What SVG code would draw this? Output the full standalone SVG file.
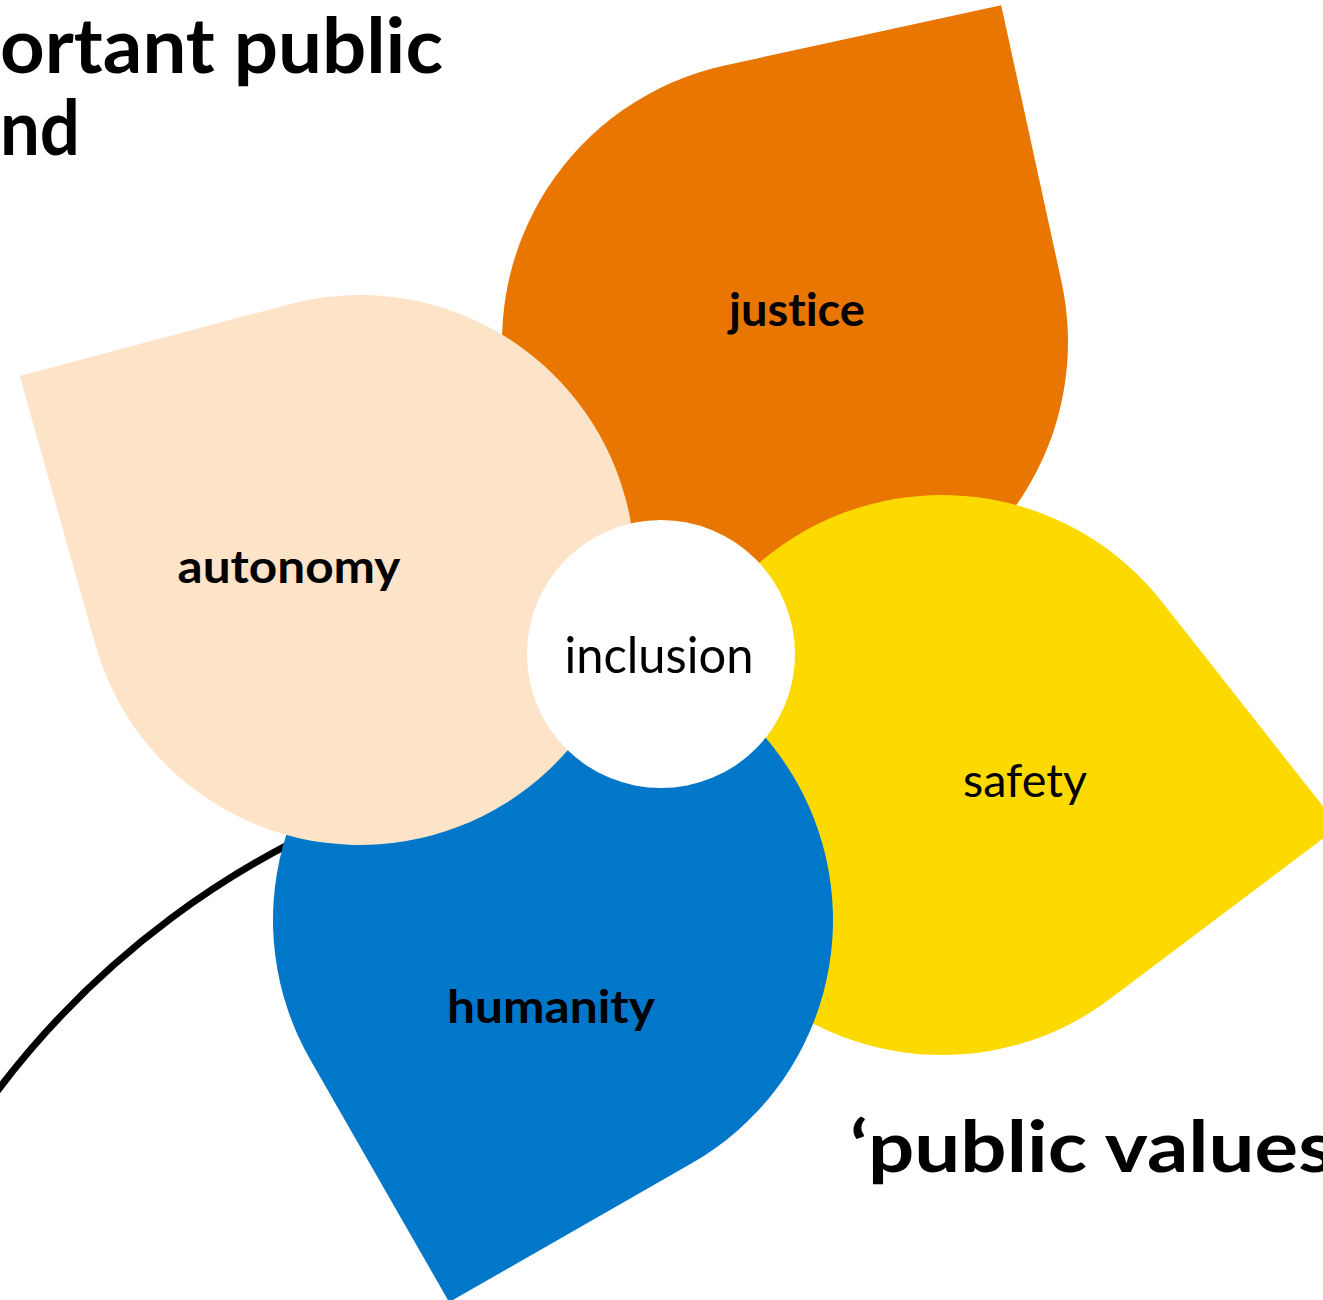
<svg xmlns="http://www.w3.org/2000/svg" width="1323" height="1300" viewBox="0 0 1323 1300">
  <style>
    text { font-variant-ligatures: none; font-feature-settings: "liga" 0, "clig" 0; }
    .lbl { font-family: Lato, "Open Sans", "Liberation Sans", sans-serif; fill: #000; text-anchor: middle; }
    .b { font-weight: bold; }
    .title { font-family: Lato, "Open Sans", "Liberation Sans", sans-serif; font-weight: bold; fill: #000; }
  </style>
  <rect width="1323" height="1300" fill="#fff"/>
  <g id="title">
    <text class="title" x="0" y="73" font-size="76" textLength="443" lengthAdjust="spacingAndGlyphs">ortant public</text>
    <text class="title" x="0" y="155" font-size="76" textLength="80" lengthAdjust="spacingAndGlyphs">nd</text>
  </g>
  <g id="connectors">
    <path d="M -10,1100.7 A 868 868 0 0 1 400,796" fill="none" stroke="#000" stroke-width="7"/>
  </g>
  <g id="justice">
    <path transform="translate(785,342) rotate(-12.3)" d="M -283,0 A 283 283 0 0 1 0,-283 L 283,-283 L 283,0 A 283 283 0 1 1 -283,0 Z" fill="#E97600"/>
    <text class="lbl b" x="797" y="326" font-size="46" textLength="136" lengthAdjust="spacingAndGlyphs">justice</text>
  </g>
  <g id="safety">
    <path transform="translate(942,775) rotate(52.4)" d="M -280,0 A 280 280 0 0 1 0,-280 L 283,-283 L 280,0 A 280 280 0 1 1 -280,0 Z" fill="#FCDA00"/>
    <text class="lbl" x="1025" y="797" font-size="46" textLength="124" lengthAdjust="spacingAndGlyphs">safety</text>
  </g>
  <g id="humanity">
    <path transform="translate(553,920) rotate(150.2)" d="M -280,0 A 280 280 0 0 1 0,-280 L 280,-280 L 280,0 A 280 280 0 1 1 -280,0 Z" fill="#0077C8"/>
    <text class="lbl b" x="551" y="1023" font-size="46" textLength="208" lengthAdjust="spacingAndGlyphs">humanity</text>
  </g>
  <g id="autonomy">
    <path transform="translate(360,570) rotate(-105.3)" d="M -275,0 A 275 275 0 0 1 0,-275 L 277,-277 L 275,0 A 275 275 0 1 1 -275,0 Z" fill="#FDE4C9"/>
    <text class="lbl b" x="289" y="583" font-size="46" textLength="223" lengthAdjust="spacingAndGlyphs">autonomy</text>
  </g>
  <g id="inclusion">
    <circle cx="661" cy="654" r="134" fill="#fff"/>
    <text class="lbl" x="659" y="673" font-size="50" textLength="189" lengthAdjust="spacingAndGlyphs">inclusion</text>
  </g>
  <g id="subtitle">
    <text class="title" x="850" y="1172" font-size="70" textLength="484" lengthAdjust="spacingAndGlyphs">‘public values</text>
  </g>
</svg>
